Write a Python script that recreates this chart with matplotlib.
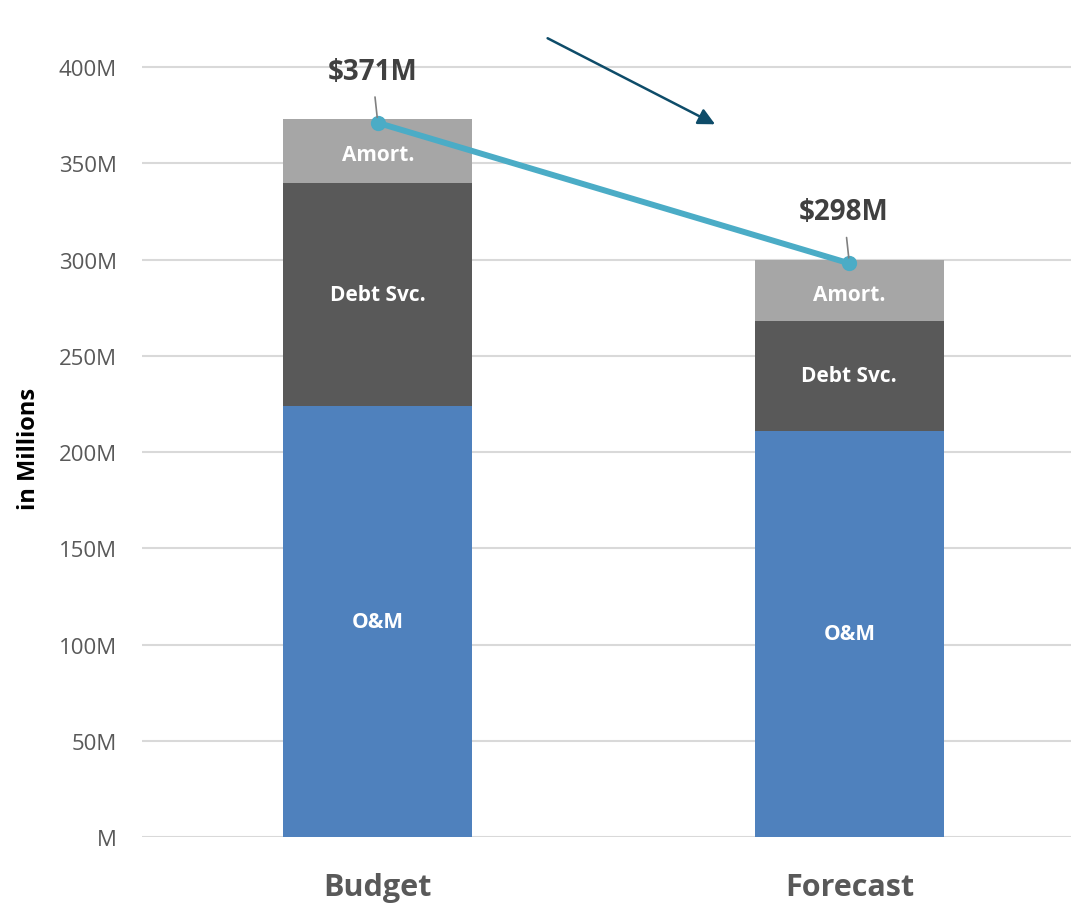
import matplotlib
matplotlib.use("Agg")
import matplotlib.pyplot as plt

categories = ["Budget", "Forecast"]
om = [224, 211]
debt = [116, 57]
amort = [33, 32]
totals = [371, 298]
total_labels = ["$371M", "$298M"]
seg_names = ["O&M", "Debt Svc.", "Amort."]
yticks = [0, 50, 100, 150, 200, 250, 300, 350, 400]
ytick_labels = ["M", "50M", "100M", "150M", "200M", "250M", "300M", "350M", "400M"]

plt.rcParams['font.family'] = ['Open Sans', 'DejaVu Sans']

fig = plt.figure(figsize=(10.71, 9.04), dpi=100)
ax = fig.add_axes([0.1326, 0.073, 0.8674, 0.905])

x = list(range(len(categories)))
w = 0.4
c_om, c_debt, c_am = "#4F81BD", "#595959", "#A6A6A6"
ax.bar(x, om, w, color=c_om, zorder=2)
ax.bar(x, debt, w, bottom=om, color=c_debt, zorder=2)
b3 = [o + d for o, d in zip(om, debt)]
ax.bar(x, amort, w, bottom=b3, color=c_am, zorder=2)

for i in x:
    ax.text(i, om[i] / 2, seg_names[0], ha="center", va="center", color="white",
            fontsize=15, fontweight="bold", zorder=3)
    ax.text(i, om[i] + debt[i] / 2, seg_names[1], ha="center", va="center", color="white",
            fontsize=15, fontweight="bold", zorder=3)
    ax.text(i, b3[i] + amort[i] / 2 - 2, seg_names[2], ha="center", va="center", color="white",
            fontsize=15, fontweight="bold", zorder=3)

ax.plot(x, totals, color="#4BACC6", lw=4.3, marker="o", ms=10, zorder=4, solid_capstyle="round")

for i in x:
    ax.annotate(total_labels[i], xy=(i, totals[i]), xytext=(-4, 37), textcoords="offset points",
                ha="center", va="center", fontsize=20, fontweight="bold", color="#404040",
                arrowprops=dict(arrowstyle="-", color="#808080", lw=1.2, shrinkA=6, shrinkB=4),
                zorder=5)

ax.set_xlim(-0.5, 1.47)
ax.set_ylim(0, 425)
ax.set_yticks(yticks)
ax.set_yticklabels(ytick_labels)
ax.set_xticks(x)
ax.set_xticklabels(categories, fontsize=22, fontweight="bold", color="#595959")
ax.tick_params(axis="y", labelsize=16, labelcolor="#595959", length=0, pad=18)
ax.tick_params(axis="x", length=0, pad=25)
ax.yaxis.grid(True, color="#D9D9D9", lw=1.5, zorder=0)
ax.set_axisbelow(True)
for s in ax.spines.values():
    s.set_visible(False)

fig.text(0.027, 0.503, "in Millions", rotation=90, ha="center", va="center",
         fontsize=17, fontweight="bold", color="black")

# Decorative trend arrow
ax.annotate("", xy=(0.670, 0.860), xytext=(0.509, 0.958), xycoords=fig.transFigure,
            textcoords=fig.transFigure,
            arrowprops=dict(arrowstyle="-|>,head_length=1.0,head_width=0.5", color="#0E4C69", lw=1.8))

fig.savefig("out.png", dpi=100)
